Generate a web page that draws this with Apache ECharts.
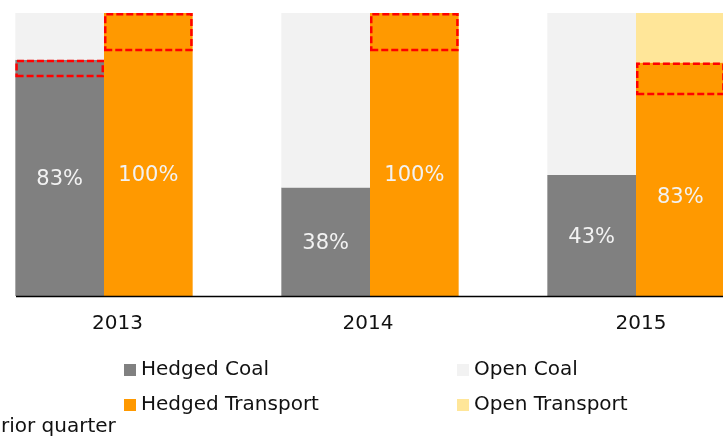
<!DOCTYPE html>
<html>
<head>
<meta charset="utf-8">
<script src="https://cdn.jsdelivr.net/npm/echarts@6/dist/echarts.min.js"></script>
<style>
  html, body { margin: 0; padding: 0; background: #fff; overflow: hidden; }
  /* the plot runs past both edges of the picture, so the canvas is shifted left */
  #main { position: absolute; left: -29px; top: 0; width: 815px; height: 442px; }
</style>
</head>
<body>
<div id="main"></div>
<script>
// data (percent)
const years = ['2013', '2014', '2015'];
const hedgedCoal = [83.5, 38.3, 42.8];
const openCoal = [16.5, 61.7, 57.2];
const hedgedTransport = [100, 100, 82.5];
const openTransport = [0, 0, 17.5];
// prior quarter hedged levels (dashed boxes)
const priorCoal = [77.3, null, null];
const priorTransport = [86.5, 86.5, 70.9];
// labels as printed
const coalLabels = ['83%', '38%', '43%'];
const transportLabels = ['100%', '100%', '83%'];

const font = 'DejaVu Sans';
const shift = 29; // canvas offset

let chart = echarts.init(document.getElementById('main'));

// box heights = current minus prior
const coalBox = priorCoal.map((p, i) => p == null ? '-' : +(hedgedCoal[i] - p).toFixed(1));
const transportBox = priorTransport.map((p, i) => p == null ? '-' : +(hedgedTransport[i] - p).toFixed(1));

const dashed = {
  color: 'rgba(0,0,0,0)',
  borderColor: '#ff0000',
  borderWidth: 2.5,
  borderType: [7, 3]
};

let option = {
  animation: false,
  grid: { left: 0, right: 17, top: 13, bottom: 146 },
  xAxis: [
    {
      type: 'category',
      data: years,
      axisLine: { show: false },
      axisTick: { show: false },
      axisLabel: {
        margin: 18,
        formatter: (v, i) => '{c' + i + '|' + v + '}',
        rich: {
          c0: { fontSize: 20, fontFamily: font, color: '#111', padding: [0, 0, 0, 27] },
          c1: { fontSize: 20, fontFamily: font, color: '#111', padding: [0, 4, 0, 0] },
          c2: { fontSize: 20, fontFamily: font, color: '#111', padding: [0, 0, 0, 10] }
        }
      }
    },
    { type: 'category', data: years, show: false }
  ],
  yAxis: { type: 'value', min: 0, max: 100, show: false },
  legend: [
    {
      data: ['Hedged Coal', 'Hedged Transport'],
      orient: 'vertical', left: 119 + shift, top: 355,
      icon: 'rect', itemWidth: 12, itemHeight: 12, itemGap: 15,
      selectedMode: false,
      textStyle: { fontSize: 20, fontFamily: font, color: '#111', lineHeight: 20 }
    },
    {
      data: ['Open Coal', 'Open Transport'],
      orient: 'vertical', left: 452 + shift, top: 355,
      icon: 'rect', itemWidth: 12, itemHeight: 12, itemGap: 15,
      selectedMode: false,
      textStyle: { fontSize: 20, fontFamily: font, color: '#111', lineHeight: 20 }
    }
  ],
  graphic: [
    {
      type: 'line', z: 100,
      shape: { x1: 16 + shift, y1: 296.5, x2: 815, y2: 296.5 },
      style: { stroke: '#000', lineWidth: 1.5 }
    },
    {
      type: 'text',
      style: { text: 'rior quarter', x: 1 + shift, y: 427, fill: '#111', font: '20px "DejaVu Sans"', verticalAlign: 'middle' }
    }
  ],
  series: [
    {
      name: 'Hedged Coal', type: 'bar', stack: 'coal', data: hedgedCoal,
      barGap: '0%', barCategoryGap: '33.333%',
      itemStyle: { color: '#808080' },
      label: {
        show: true, position: 'inside', offset: [0, 2],
        formatter: p => coalLabels[p.dataIndex],
        color: '#f2f2f2', fontSize: 21, fontFamily: font
      }
    },
    { name: 'Open Coal', type: 'bar', stack: 'coal', data: openCoal, itemStyle: { color: '#f2f2f2' } },
    { name: 'Hedged Transport', type: 'bar', stack: 'transport', data: hedgedTransport, itemStyle: { color: '#ff9900' } },
    { name: 'Open Transport', type: 'bar', stack: 'transport', data: openTransport, itemStyle: { color: '#ffe699' } },

    // prior quarter boxes, same layout on a hidden twin axis
    {
      name: 'pc base', type: 'bar', xAxisIndex: 1, stack: 'pc', silent: true,
      barGap: '0%', barCategoryGap: '33.333%',
      data: priorCoal.map(v => v == null ? '-' : v),
      itemStyle: { color: 'rgba(0,0,0,0)' }
    },
    { name: 'Prior Coal', type: 'bar', xAxisIndex: 1, stack: 'pc', silent: true, data: coalBox, itemStyle: dashed },
    {
      name: 'pt base', type: 'bar', xAxisIndex: 1, stack: 'pt', silent: true,
      data: priorTransport,
      itemStyle: { color: 'rgba(0,0,0,0)' },
      label: {
        show: true, position: 'inside', offset: [0, 2],
        formatter: p => transportLabels[p.dataIndex],
        color: '#f2f2f2', fontSize: 21, fontFamily: font
      }
    },
    { name: 'Prior Transport', type: 'bar', xAxisIndex: 1, stack: 'pt', silent: true, data: transportBox, itemStyle: dashed }
  ]
};

chart.setOption(option);
</script>
</body>
</html>
